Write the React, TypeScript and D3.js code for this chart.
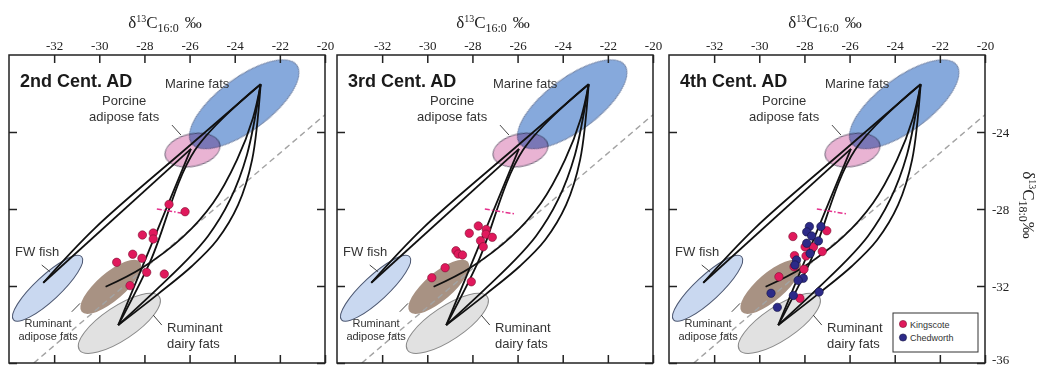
import React, { useEffect, useRef } from 'react';
import * as d3 from 'd3';

// axes: d13C 16:0 (x) and d13C 18:0 (y), per mil
const xTicks = [-32, -30, -28, -26, -24, -22, -20];
const yTicks = [-24, -28, -32, -36];
const periods = ['2nd Cent. AD', '3rd Cent. AD', '4th Cent. AD'];

// reference ranges: centre, tip of the long axis, short/long axis ratio
const regions = [
  { name: 'fw', c: [-32.29, -32.12], tip: [-30.78, -30.48], ratio: 0.27, fill: '#c9d8f0', stroke: '#4d5872' },
  { name: 'rumAdipose', c: [-29.49, -32.04], tip: [-28.2, -30.74], ratio: 0.36, fill: '#a89283', stroke: 'none' },
  { name: 'dairy', c: [-29.11, -33.94], tip: [-27.34, -32.56], ratio: 0.35, fill: '#e1e1e1', stroke: '#8a8a8a' },
  { name: 'porcine', c: [-25.87, -24.94], tip: [-24.66, -24.63], ratio: 0.58, fill: '#e9b3d3', stroke: '#6f6478' },
  { name: 'marine', c: [-23.58, -22.56], tip: [-21.25, -20.52], ratio: 0.4, fill: '#80a4da', stroke: '#7384a6' },
];

// mixing lines between end members
const mixing = [
  [[-32.48, -31.83], [-25.94, -24.88]],
  [[-32.48, -31.83], [-30.19, -28.99], [-26.07, -24.78], [-22.85, -21.52]],
  [[-25.94, -24.88], [-29.16, -34.03]],
  [[-22.85, -21.52], [-25.76, -24.94], [-27.75, -30.75], [-29.16, -34.03]],
  [[-29.72, -32.04], [-28.11, -31.06], [-26.29, -29.45], [-24.96, -27.69], [-23.9, -25.45], [-23.19, -23.27], [-22.85, -21.52]],
  [[-29.16, -34.03], [-27.4, -32.42], [-25.89, -30.96], [-24.78, -29.61], [-23.85, -27.79], [-23.23, -25.45], [-22.85, -21.52]],
  [[-29.16, -34.03], [-27.49, -32.21], [-26.2, -30.75], [-25.18, -29.4], [-24.21, -27.53], [-23.46, -25.19], [-22.85, -21.52]],
];

const delta31Line = [[-32.9, -36], [-20, -23.1]];
const pinkMark = [[-27.45, -28.0], [-26.15, -28.25]];

const labels = [
  { lines: ['Marine fats'], at: [-27.09, -21.71], size: 13, anchor: 'start' },
  { lines: ['Porcine', 'adipose fats'], at: [-28.9, -22.6], size: 13, anchor: 'middle' },
  { lines: ['FW fish'], at: [-33.73, -30.44], size: 13, anchor: 'start' },
  { lines: ['Ruminant', 'adipose fats'], at: [-32.27, -34.13], size: 11, anchor: 'middle' },
  { lines: ['Ruminant', 'dairy fats'], at: [-27.0, -34.39], size: 13, anchor: 'start' },
];
const leaders = [
  [[-26.78, -23.64], [-26.38, -24.16]],
  [[-32.55, -30.91], [-32.18, -31.26]],
  [[-31.22, -33.34], [-30.85, -32.9]],
  [[-27.61, -33.51], [-27.23, -34.03]],
];

const kingscote2 = [
  [-26.91, -27.76], [-26.2, -28.14], [-28.09, -29.35], [-27.61, -29.25], [-27.61, -29.56],
  [-28.52, -30.35], [-28.11, -30.56], [-29.23, -30.77], [-27.9, -31.29], [-27.12, -31.38], [-28.64, -31.98],
];
const kingscote3 = [
  [-27.74, -28.88], [-27.39, -29.06], [-28.14, -29.26], [-27.4, -29.31], [-27.12, -29.47],
  [-27.64, -29.65], [-27.52, -29.96], [-28.73, -30.17], [-28.63, -30.34], [-28.44, -30.39],
  [-29.21, -31.05], [-29.8, -31.57], [-28.05, -31.78],
];
const kingscote4 = [
  [-27.01, -29.13], [-28.51, -29.43], [-27.97, -29.97], [-27.6, -29.97], [-27.21, -30.21],
  [-28.44, -30.42], [-27.93, -30.44], [-28.46, -31.0], [-28.02, -31.13], [-29.13, -31.52], [-28.2, -32.64],
];
const chedworth4 = [
  [-27.78, -28.91], [-27.27, -28.91], [-27.9, -29.19], [-27.68, -29.4], [-27.38, -29.66],
  [-27.9, -29.78], [-27.75, -30.31], [-28.35, -30.65], [-28.42, -30.91], [-28.05, -31.6],
  [-28.28, -31.71], [-29.48, -32.38], [-28.49, -32.49], [-27.35, -32.31], [-29.2, -33.11],
];

const sites = [
  { name: 'Kingscote', fill: '#e0195c', stroke: '#7a1030' },
  { name: 'Chedworth', fill: '#2c2a88', stroke: '#14133f' },
];
const panelData = [[kingscote2, []], [kingscote3, []], [kingscote4, chedworth4]];

const W = 1037;
const H = 366;
const panelLeft = [9, 337, 669];
const panelW = 316;
const top = 55;
const bottom = 363;
const sans = "'Liberation Sans', Arial, sans-serif";
const serif = "'Liberation Serif', 'Times New Roman', serif";

const App = () => {
  const ref = useRef(null);

  useEffect(() => {
    const svg = d3.select(ref.current);
    svg.selectAll('*').remove();

    const x = d3.scaleLinear().domain([-34, -20]).range([0, panelW]);
    const y = d3.scaleLinear().domain([-36, -20]).range([bottom - top, 0]);
    const innerH = bottom - top;
    const line = d3.line().x(d => x(d[0])).y(d => y(d[1]));
    const curve = d3.line().x(d => x(d[0])).y(d => y(d[1])).curve(d3.curveCatmullRom.alpha(0.5));

    svg.append('defs').append('clipPath').attr('id', 'box')
      .append('rect').attr('width', panelW).attr('height', innerH);

    periods.forEach((period, i) => {
      const g = svg.append('g').attr('transform', `translate(${panelLeft[i]},${top})`);
      const plot = g.append('g').attr('clip-path', 'url(#box)');

      // reference ellipses
      regions.forEach(r => {
        const cx = x(r.c[0]), cy = y(r.c[1]);
        const tx = x(r.tip[0]), ty = y(r.tip[1]);
        const a = Math.hypot(tx - cx, ty - cy);
        const ang = Math.atan2(ty - cy, tx - cx) * 180 / Math.PI;
        plot.append('ellipse')
          .attr('cx', cx).attr('cy', cy)
          .attr('rx', a).attr('ry', a * r.ratio)
          .attr('transform', `rotate(${ang},${cx},${cy})`)
          .attr('fill', r.fill)
          .attr('stroke', r.stroke)
          .attr('stroke-width', 1)
          .style('mix-blend-mode', r.name === 'marine' ? 'multiply' : null)
          .attr('fill-opacity', r.name === 'marine' ? 0.95 : 1);
      });

      plot.append('path')
        .attr('d', line(delta31Line))
        .attr('fill', 'none').attr('stroke', '#a3a3a3')
        .attr('stroke-width', 1.4).attr('stroke-dasharray', '6,4');

      mixing.forEach(m => {
        plot.append('path')
          .attr('d', curve(m))
          .attr('fill', 'none').attr('stroke', '#111')
          .attr('stroke-width', 1.8).attr('stroke-linejoin', 'round');
      });

      plot.append('path')
        .attr('d', line(pinkMark))
        .attr('fill', 'none').attr('stroke', '#e5308c')
        .attr('stroke-width', 1.5).attr('stroke-dasharray', '5,2,1.5,2');

      leaders.forEach(l => {
        plot.append('path').attr('d', line(l))
          .attr('stroke', '#444').attr('stroke-width', 1);
      });

      labels.forEach(lb => {
        const t = plot.append('text')
          .attr('x', x(lb.at[0])).attr('y', y(lb.at[1]))
          .attr('font-family', sans).attr('font-size', lb.size)
          .attr('fill', '#333').attr('text-anchor', lb.anchor);
        lb.lines.forEach((s, k) => {
          t.append('tspan').attr('x', x(lb.at[0])).attr('dy', k === 0 ? 0 : lb.size * 1.22).text(s);
        });
      });

      panelData[i].forEach((pts, s) => {
        plot.selectAll(null).data(pts).enter().append('circle')
          .attr('cx', d => x(d[0])).attr('cy', d => y(d[1]))
          .attr('r', 4.2)
          .attr('fill', sites[s].fill)
          .attr('stroke', sites[s].stroke).attr('stroke-width', 0.6);
      });

      g.append('text')
        .attr('x', 11).attr('y', 32)
        .attr('font-family', sans).attr('font-weight', 'bold')
        .attr('font-size', 18).attr('fill', '#1a1a1a')
        .text(period);

      // frame and inward ticks
      g.append('rect').attr('width', panelW).attr('height', innerH)
        .attr('fill', 'none').attr('stroke', '#222').attr('stroke-width', 1.5);

      const topAxis = g.append('g').call(
        d3.axisTop(x).tickValues(xTicks).tickSize(-8).tickPadding(5).tickFormat(d => String(d))
      );
      const botAxis = g.append('g').attr('transform', `translate(0,${innerH})`).call(
        d3.axisBottom(x).tickValues(xTicks).tickSize(-8).tickFormat(() => '')
      );
      const leftAxis = g.append('g').call(
        d3.axisLeft(y).tickValues(yTicks).tickSize(-8).tickFormat(() => '')
      );
      const rightAxis = g.append('g').attr('transform', `translate(${panelW},0)`).call(
        d3.axisRight(y).tickValues(yTicks).tickSize(-8).tickPadding(7)
          .tickFormat(d => (i === 2 ? String(d) : ''))
      );
      [topAxis, botAxis, leftAxis, rightAxis].forEach(ax => {
        ax.select('.domain').remove();
        ax.selectAll('line').attr('stroke', '#222').attr('stroke-width', 1.5);
        ax.selectAll('text').attr('font-family', serif).attr('font-size', 13).attr('fill', '#222');
      });
      // keep the lowest label inside the picture
      rightAxis.selectAll('.tick').filter(d => d === -36).select('text').attr('dy', '0.05em');

      // top title
      const title = g.append('text')
        .attr('x', panelW / 2 - 2).attr('y', -27)
        .attr('text-anchor', 'middle')
        .attr('font-family', serif).attr('font-size', 17).attr('fill', '#222');
      title.append('tspan').text('δ');
      title.append('tspan').attr('font-size', 10).attr('dy', -6).text('13');
      title.append('tspan').attr('dy', 6).text('C');
      title.append('tspan').attr('font-size', 12).attr('dy', 4).text('16:0');
      title.append('tspan').attr('dy', -4).attr('dx', 6).text('‰');

      if (i === 2) {
        const lg = g.append('g').attr('transform', `translate(${panelW - 92},${258})`);
        lg.append('rect').attr('width', 85).attr('height', 39)
          .attr('fill', '#fff').attr('stroke', '#333').attr('stroke-width', 1);
        sites.forEach((s, k) => {
          lg.append('circle').attr('cx', 10).attr('cy', 11 + k * 13.5).attr('r', 3.6)
            .attr('fill', s.fill).attr('stroke', s.stroke).attr('stroke-width', 0.6);
          lg.append('text').attr('x', 17).attr('y', 14.5 + k * 13.5)
            .attr('font-family', sans).attr('font-size', 9).attr('fill', '#333')
            .text(s.name);
        });

        const side = g.append('text')
          .attr('transform', `translate(${panelW + 38},${innerH / 2 - 4}) rotate(90)`)
          .attr('text-anchor', 'middle')
          .attr('font-family', serif).attr('font-size', 17).attr('fill', '#222');
        side.append('tspan').text('δ');
        side.append('tspan').attr('font-size', 10).attr('dy', -6).text('13');
        side.append('tspan').attr('dy', 6).text('C');
        side.append('tspan').attr('font-size', 12).attr('dy', 4).text('18:0');
        side.append('tspan').attr('dy', -4).text('‰');
      }
    });
  }, []);

  return (
    <svg
      ref={ref}
      width={W}
      height={H}
      style={{ position: 'absolute', left: 0, top: 0, background: '#fff' }}
    />
  );
};

export default App;
